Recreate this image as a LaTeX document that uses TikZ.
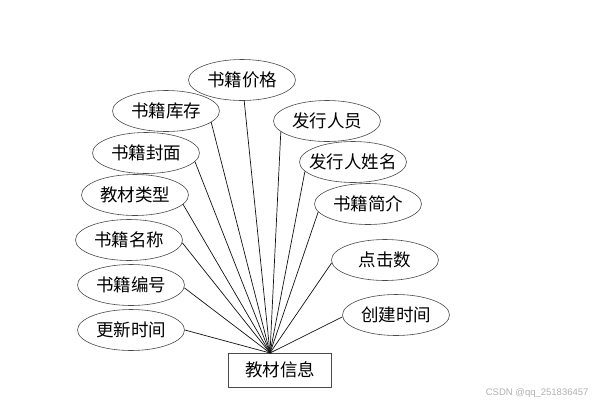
\documentclass[tikz,border=0pt]{standalone}
\usepackage{fontspec}
\newfontfamily\cjk{Noto Sans CJK SC}
\newfontfamily\markfont{Liberation Sans}
\usepackage{xcolor}
\usetikzlibrary{positioning, shapes.geometric}
\definecolor{edgeGray}{HTML}{4A4A4A}
\definecolor{linkBlack}{HTML}{111111}
\definecolor{markGray}{HTML}{B0B0B0}

\begin{document}
\begin{tikzpicture}[
  x=1pt, y=-1pt,
  attr/.style={ellipse, draw=edgeGray, line width=0.6pt, minimum width=107pt,
               minimum height=41pt, inner sep=0pt, text=black,
               font=\cjk\fontsize{17.5}{20}\selectfont},
  entity/.style={rectangle, draw=edgeGray, line width=0.7pt, minimum width=103pt,
                 minimum height=34pt, inner sep=0pt, text=black,
                 font=\cjk\fontsize{17.5}{20}\selectfont},
  link/.style={draw=linkBlack, line width=0.7pt},
]
  \useasboundingbox (0,0) rectangle (605,405);

  % ═══ Entity and the point where all links meet ═══
  \node[entity] at (280,370) (book) {教材信息};
  \coordinate (hub) at (270,353);

  % ═══ Attributes, left side (top to bottom) ═══
  \node[attr] at (242,80)  (price)  {书籍价格};
  \node[attr] at (166,111) (stock)  {书籍库存};
  \node[attr] at (146,153) (cover)  {书籍封面};
  \node[attr] at (135,195) (kind)   {教材类型};
  \node[attr] at (129,240) (title)  {书籍名称};
  \node[attr] at (131,285) (code)   {书籍编号};
  \node[attr] at (131,330) (update) {更新时间};

  % ═══ Attributes, right side ═══
  \node[attr] at (327,121) (issuer) {发行人员};
  \node[attr, inner xsep=-6pt] at (353,162) (iname) {发行人姓名};
  \node[attr] at (368,204) (intro)  {书籍简介};
  \node[attr] at (385,260) (clicks) {点击数};
  \node[attr] at (396,315) (create) {创建时间};

  % Links into the entity (each leaves its ellipse at a fixed border angle)
  \foreach \a/\ang in {price/-84, stock/-14, cover/-10, kind/-11, title/-3,
                       code/-3, update/0, issuer/193, iname/191, intro/189,
                       clicks/183, create/182}
    \draw[link] (\a.\ang) -- (hub);

  % watermark
  \node[font=\markfont\fontsize{9.5}{11}\selectfont, text=markGray, anchor=east]
        at (592,393) (mark) {CSDN @qq\_251836457};
\end{tikzpicture}
\end{document}
